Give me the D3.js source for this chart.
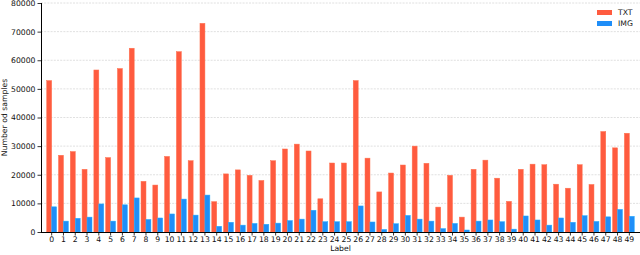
<!DOCTYPE html>
<html><head><meta charset="utf-8">
<script src="https://cdn.jsdelivr.net/npm/d3@7"></script>
<style>body{margin:0;background:#fff}svg{display:block}text{font-family:"DejaVu Sans",sans-serif}</style>
</head><body><svg id="c" width="640" height="255"></svg>
<script>
const labels = d3.range(0, 50).map(String);
const txt = [52900,26800,28100,21900,56600,26000,57100,64200,17700,16400,26400,63000,24900,72900,10600,
  20300,21700,19800,18000,24900,29000,30700,28300,11600,24100,24100,52900,25800,14000,20600,23400,30000,
  24000,8700,19800,5200,21900,25100,18800,10700,21900,23700,23500,16700,15300,23500,16600,35100,29400,34500];
const img = [8800,3800,4800,5200,9800,3800,9500,11900,4400,4900,6300,11500,5900,12900,2000,
  3400,2400,3000,2700,3100,4000,4500,7600,3600,3600,3600,9100,3500,900,2900,5800,4500,
  3800,1200,3000,700,3800,4200,3600,1000,5600,4200,2400,4900,3400,5700,3700,5300,7900,5500];
const yTicks = [0,10000,20000,30000,40000,50000,60000,70000,80000];
const seriesNames = ["TXT","IMG"];
const colors = ["#ff5b3f","#1f8ef8"];

const svg = d3.select("#c");
const L = 41, R = 640, T = 3, B = 232;
const x = d3.scaleBand().domain(labels).range([L, R]).paddingInner(0).paddingOuter(0.405);
const y = d3.scaleLinear().domain([0, 80000]).range([B, T]);
const fs = 7.7;

// grid
svg.append("g").selectAll("line").data(yTicks.slice(1)).join("line")
  .attr("x1", L).attr("x2", R).attr("y1", d => y(d)).attr("y2", d => y(d))
  .attr("stroke", "#d8d8d8").attr("stroke-width", 0.8).attr("stroke-dasharray", "2,1.2");

const bw = x.step() * 0.42;
const series = [txt, img];
series.forEach((vals, si) => {
  svg.append("g").selectAll("rect").data(vals).join("rect")
    .attr("x", (d, i) => x(labels[i]) + x.bandwidth() / 2 + (si === 0 ? -bw : 0))
    .attr("y", d => y(d)).attr("width", bw).attr("height", d => B - y(d))
    .attr("fill", colors[si]).attr("stroke", d3.color(colors[si]).brighter(0.6)).attr("stroke-width", 0.5);
});

const yAxis = svg.append("g").attr("transform", `translate(${L},0)`)
  .call(d3.axisLeft(y).tickValues(yTicks).tickFormat(d3.format("d")).tickSize(3.5).tickPadding(2));
const xAxis = svg.append("g").attr("transform", `translate(0,${B})`)
  .call(d3.axisBottom(x).tickSize(3.5).tickPadding(1.5));
[yAxis, xAxis].forEach(g => {
  g.select(".domain").attr("stroke", "#000").attr("stroke-width", 1);
  g.selectAll(".tick line").attr("stroke", "#000").attr("stroke-width", 0.8);
  g.selectAll("text").attr("font-size", fs).attr("fill", "#111").attr("font-family", "DejaVu Sans");
});
xAxis.select(".domain").attr("d", `M${L},0.5H${R}`);
yAxis.select(".domain").attr("d", `M0.5,${B}V${T}`);

svg.append("text").attr("x", (L + R) / 2).attr("y", 251).attr("text-anchor", "middle")
  .attr("font-size", fs).attr("fill", "#111").text("Label");
svg.append("text").attr("transform", `translate(4.8,${(T + B) / 2}) rotate(-90)`)
  .attr("text-anchor", "middle").attr("dominant-baseline", "middle").attr("font-size", fs).attr("fill", "#111").text("Number od samples");

// legend
const lg = svg.append("g");
seriesNames.forEach((n, i) => {
  lg.append("rect").attr("x", 597).attr("y", 10 + i * 11).attr("width", 15).attr("height", 5).attr("fill", colors[i]);
  lg.append("text").attr("x", 618).attr("y", 13 + i * 11).attr("dominant-baseline", "middle")
    .attr("font-size", fs).attr("fill", "#111").text(n);
});
</script></body></html>
